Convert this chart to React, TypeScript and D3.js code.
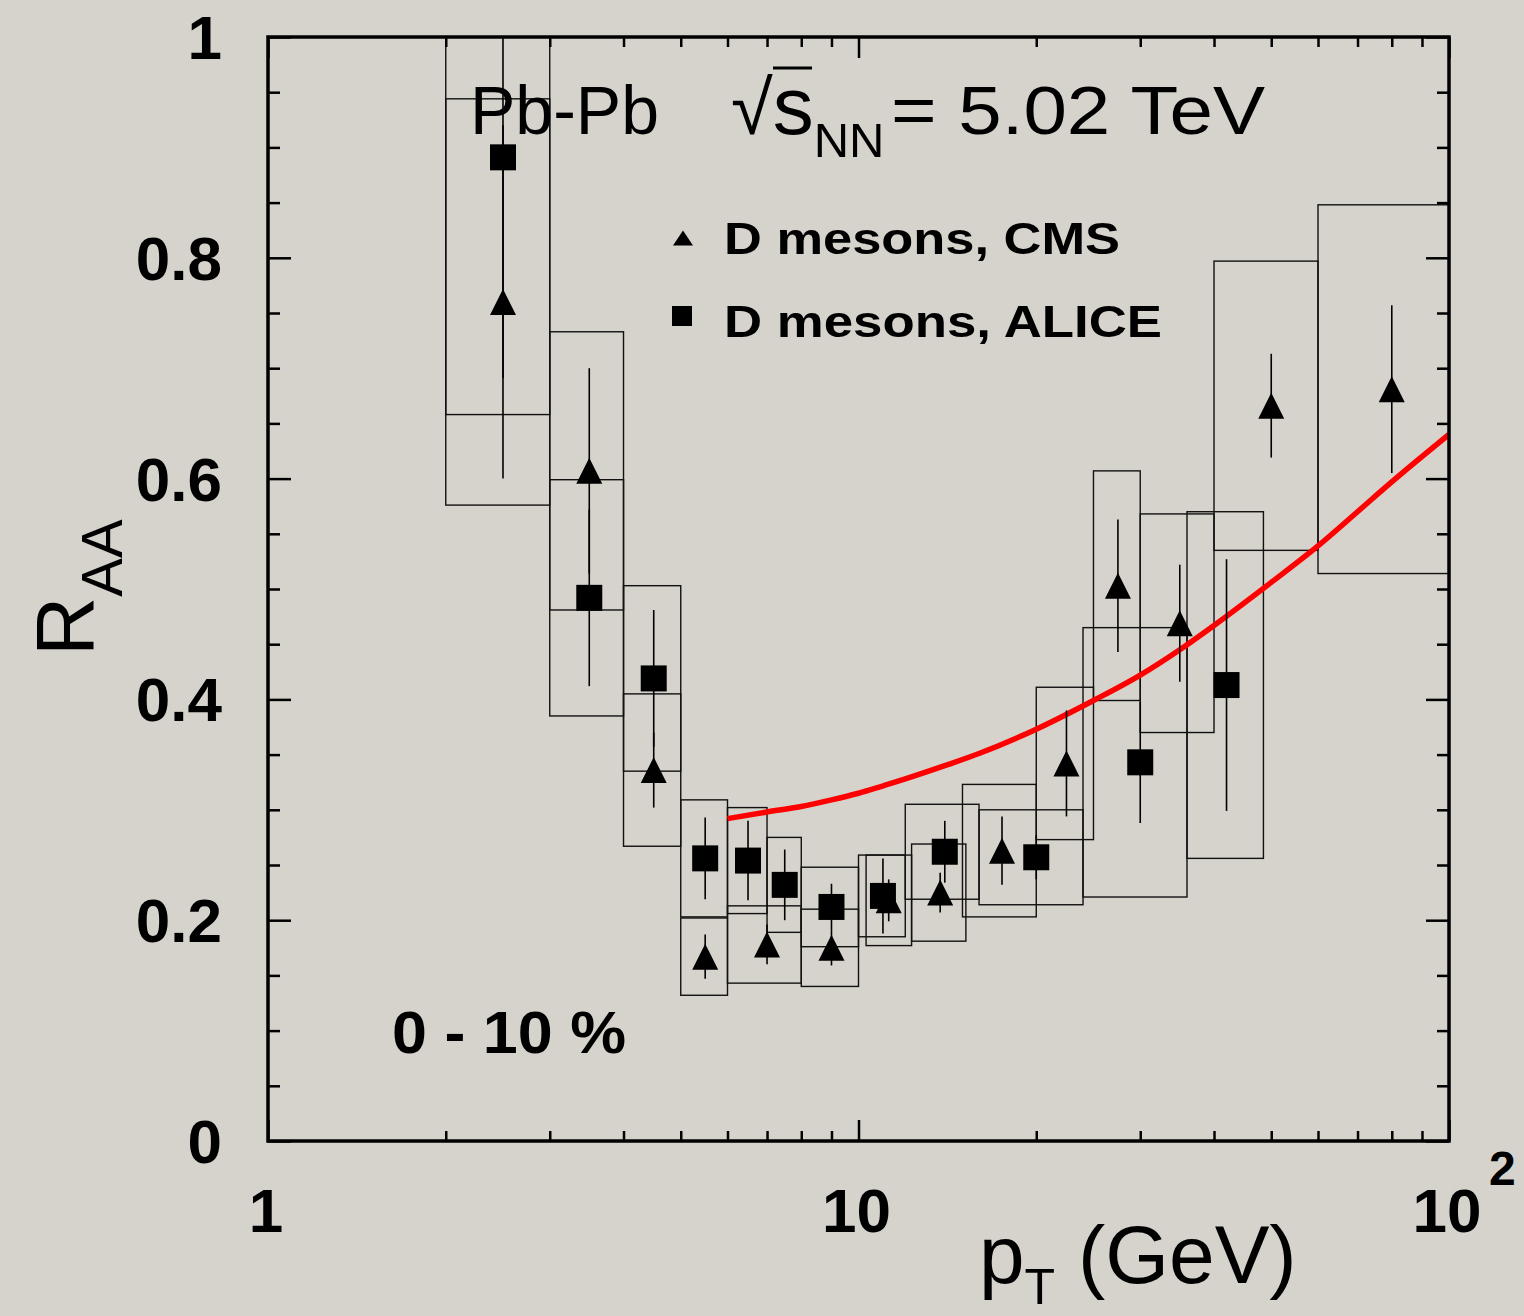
import * as React from 'react'
import * as d3 from 'd3'

const {useRef, useEffect} = React

const W = 1524
const H = 1316

// ALICE D mesons (squares)
const aliceBinLo = [2, 3, 4, 5, 6, 7, 8, 10, 12, 16, 24, 36]
const aliceBinHi = [3, 4, 5, 6, 7, 8, 10, 12, 16, 24, 36, 48.5]
const alicePt = [2.5, 3.5, 4.5, 5.5, 6.5, 7.5, 9, 11, 14, 20, 30, 42]
const aliceRaa = [0.891, 0.492, 0.419, 0.256, 0.254, 0.232, 0.212, 0.222, 0.262, 0.257, 0.343, 0.413]
const aliceStat = [0.2, 0.08, 0.062, 0.037, 0.036, 0.032, 0.021, 0.034, 0.028, 0.02, 0.055, 0.114]
const aliceSyst = [0.233, 0.107, 0.084, 0.053, 0.048, 0.043, 0.036, 0.037, 0.043, 0.043, 0.122, 0.157]

// CMS D mesons (triangles)
const cmsBinLo = [2, 3, 4, 5, 6, 8, 10.3, 12.3, 15, 20, 25, 30, 40, 60]
const cmsBinHi = [3, 4, 5, 6, 8, 10, 12.3, 15.2, 20, 25, 30, 40, 60, 100]
const cmsPt = [2.5, 3.5, 4.5, 5.5, 7, 9, 11.25, 13.75, 17.5, 22.5, 27.5, 35, 50, 80]
const cmsRaa = [0.76, 0.607, 0.336, 0.167, 0.178, 0.175, 0.218, 0.225, 0.263, 0.342, 0.503, 0.469, 0.666, 0.681]
const cmsStat = [0.16, 0.093, 0.034, 0.02, 0.018, 0.016, 0.019, 0.018, 0.031, 0.048, 0.06, 0.053, 0.047, 0.076]
const cmsSyst = [0.184, 0.126, 0.069, 0.035, 0.035, 0.035, 0.041, 0.044, 0.06, 0.069, 0.104, 0.099, 0.131, 0.167]

// model curve (red)
const curvePt = [6, 7, 8, 9, 10, 12, 14, 16, 20, 25, 30, 35, 40, 50, 60, 70, 80, 100]
const curveRaa = [0.292, 0.298, 0.303, 0.309, 0.315, 0.328, 0.340, 0.351, 0.373, 0.399, 0.422, 0.445, 0.467, 0.506, 0.539, 0.570, 0.597, 0.640]

const yTicks = [0, 0.2, 0.4, 0.6, 0.8, 1]
const yTickLabels = ['0', '0.2', '0.4', '0.6', '0.8', '1']
const xTicks = [1, 10, 100]
const xTickLabels = ['1', '10', '10']

const FONT = '"Liberation Sans", Arial, Helvetica, sans-serif'

// ROOT-like triangle: as tall as it is wide, centred on its box
const triangleUp = {
  draw(ctx, size) {
    const s = Math.sqrt(size)
    ctx.moveTo(0, -s / 2)
    ctx.lineTo(s / 2, s / 2)
    ctx.lineTo(-s / 2, s / 2)
    ctx.closePath()
  }
}

export default function App() {
  const ref = useRef(null)

  useEffect(() => {
    const svg = d3.select(ref.current)
    svg.selectAll('*').remove()

    const x = d3.scaleLog().domain([1, 100]).range([268, 1449])
    const y = d3.scaleLinear().domain([0, 1]).range([1141, 37])
    const [x0, x1] = x.range()
    const [y0, y1] = y.range()

    svg.append('rect').attr('width', W).attr('height', H).attr('fill', '#d6d3cc')

    svg.append('defs').append('clipPath').attr('id', 'plot')
      .append('rect').attr('x', x0).attr('y', y1).attr('width', x1 - x0).attr('height', y0 - y1)

    const plot = svg.append('g').attr('clip-path', 'url(#plot)')

    // systematic boxes
    const boxes = (lo, hi, val, syst) => {
      plot.append('g').selectAll('rect').data(val).join('rect')
        .attr('x', (d, i) => x(lo[i]))
        .attr('width', (d, i) => x(hi[i]) - x(lo[i]))
        .attr('y', (d, i) => y(d + syst[i]))
        .attr('height', (d, i) => y(d - syst[i]) - y(d + syst[i]))
        .attr('fill', 'none')
        .attr('stroke', '#111')
        .attr('stroke-width', 1.4)
    }
    boxes(aliceBinLo, aliceBinHi, aliceRaa, aliceSyst)
    boxes(cmsBinLo, cmsBinHi, cmsRaa, cmsSyst)

    // model curve
    const line = d3.line().x(d => x(d[0])).y(d => y(d[1])).curve(d3.curveMonotoneX)
    plot.append('path')
      .datum(curvePt.map((p, i) => [p, curveRaa[i]]))
      .attr('d', line)
      .attr('fill', 'none')
      .attr('stroke', '#ff0000')
      .attr('stroke-width', 5.5)

    // statistical error bars
    const errors = (pt, val, stat) => {
      plot.append('g').selectAll('line').data(val).join('line')
        .attr('x1', (d, i) => x(pt[i]))
        .attr('x2', (d, i) => x(pt[i]))
        .attr('y1', (d, i) => y(d + stat[i]))
        .attr('y2', (d, i) => y(d - stat[i]))
        .attr('stroke', '#000')
        .attr('stroke-width', 1.6)
    }
    errors(alicePt, aliceRaa, aliceStat)
    errors(cmsPt, cmsRaa, cmsStat)

    // markers
    const square = d3.symbol().type(d3.symbolSquare).size(26 * 26)
    const tri = d3.symbol().type(triangleUp).size(26 * 26)
    plot.append('g').selectAll('path').data(aliceRaa).join('path')
      .attr('transform', (d, i) => `translate(${x(alicePt[i])},${y(d)})`)
      .attr('d', square)
      .attr('fill', '#000')
    plot.append('g').selectAll('path').data(cmsRaa).join('path')
      .attr('transform', (d, i) => `translate(${x(cmsPt[i])},${y(d)})`)
      .attr('d', tri)
      .attr('fill', '#000')

    // ticks, inward on all four sides
    const majorX = xTicks
    const minorX = x.ticks().filter(t => !majorX.includes(t))
    const majorY = yTicks
    const minorY = d3.ticks(0, 1, 20).filter(t => !majorY.some(m => Math.abs(m - t) < 1e-9))

    const ticks = (axis, transform) => {
      svg.append('g').attr('transform', transform)
        .call(axis.tickFormat(() => '').tickSizeOuter(0))
        .call(g => g.select('.domain').remove())
        .call(g => g.selectAll('line').attr('stroke', '#000').attr('stroke-width', 2.5))
    }
    ticks(d3.axisBottom(x).tickValues(minorX).tickSizeInner(-10), `translate(0,${y0})`)
    ticks(d3.axisBottom(x).tickValues(majorX).tickSizeInner(-21), `translate(0,${y0})`)
    ticks(d3.axisTop(x).tickValues(minorX).tickSizeInner(-10), `translate(0,${y1})`)
    ticks(d3.axisTop(x).tickValues(majorX).tickSizeInner(-21), `translate(0,${y1})`)
    ticks(d3.axisLeft(y).tickValues(minorY).tickSizeInner(-12), `translate(${x0},0)`)
    ticks(d3.axisLeft(y).tickValues(majorY).tickSizeInner(-23), `translate(${x0},0)`)
    ticks(d3.axisRight(y).tickValues(minorY).tickSizeInner(-12), `translate(${x1},0)`)
    ticks(d3.axisRight(y).tickValues(majorY).tickSizeInner(-23), `translate(${x1},0)`)

    // frame
    svg.append('rect')
      .attr('x', x0).attr('y', y1).attr('width', x1 - x0).attr('height', y0 - y1)
      .attr('fill', 'none').attr('stroke', '#000').attr('stroke-width', 3.5)

    const text = (str, px, py, size, weight = 'normal', anchor = 'start') =>
      svg.append('text')
        .attr('x', px).attr('y', py)
        .attr('font-family', FONT).attr('font-size', size).attr('font-weight', weight)
        .attr('text-anchor', anchor).attr('fill', '#000')
        .text(str)

    // tick labels
    yTicks.forEach((v, i) => text(yTickLabels[i], 222, y(v) + 22, 62, 'bold', 'end'))
    xTicks.forEach((v, i) => text(xTickLabels[i], x(v) - 2, 1232, 62, 'bold', 'middle'))
    text('2', x(100) + 40, 1185, 48, 'bold')

    // axis titles
    const xt = svg.append('text')
      .attr('x', 979).attr('y', 1283)
      .attr('font-family', FONT).attr('font-size', 82).attr('fill', '#000')
    xt.append('tspan').text('p')
    xt.append('tspan').attr('font-size', 50).attr('dy', 21).text('T')
    xt.append('tspan').attr('dy', -21).text(' (GeV)')

    const yt = svg.append('text')
      .attr('transform', 'translate(93,656) rotate(-90)')
      .attr('font-family', FONT).attr('font-size', 82).attr('fill', '#000')
    yt.append('tspan').text('R')
    yt.append('tspan').attr('font-size', 58).attr('dy', 29).text('AA')

    // header
    text('Pb-Pb', 470, 134, 68)
    const rs = svg.append('text')
      .attr('x', 731).attr('y', 134)
      .attr('font-family', FONT).attr('font-size', 76).attr('fill', '#000')
    rs.append('tspan').text('\u221A')
    rs.append('tspan').attr('font-size', 82).text('s')
    rs.append('tspan').attr('font-size', 49).attr('dy', 23).text('NN')
    svg.append('line').attr('x1', 773).attr('x2', 812).attr('y1', 68).attr('y2', 68)
      .attr('stroke', '#000').attr('stroke-width', 3)
    text('= 5.02 TeV', 891, 134, 68).attr('textLength', 374).attr('lengthAdjust', 'spacingAndGlyphs')

    // legend
    svg.append('path').attr('transform', 'translate(683,238) scale(1,0.75)')
      .attr('d', d3.symbol().type(triangleUp).size(20 * 20)()).attr('fill', '#000')
    svg.append('path').attr('transform', 'translate(682,316)')
      .attr('d', d3.symbol().type(d3.symbolSquare).size(20 * 20)()).attr('fill', '#000')
    text('D mesons, CMS', 724, 254, 44, 'bold').attr('textLength', 396).attr('lengthAdjust', 'spacingAndGlyphs')
    text('D mesons, ALICE', 724, 337, 44, 'bold').attr('textLength', 438).attr('lengthAdjust', 'spacingAndGlyphs')

    // centrality
    text('0 - 10 %', 392, 1053, 60, 'bold').attr('textLength', 234).attr('lengthAdjust', 'spacingAndGlyphs')
  }, [])

  return (
    <svg ref={ref} width={W} height={H}
      style={{position: 'absolute', left: 0, top: 0, display: 'block'}} />
  )
}
